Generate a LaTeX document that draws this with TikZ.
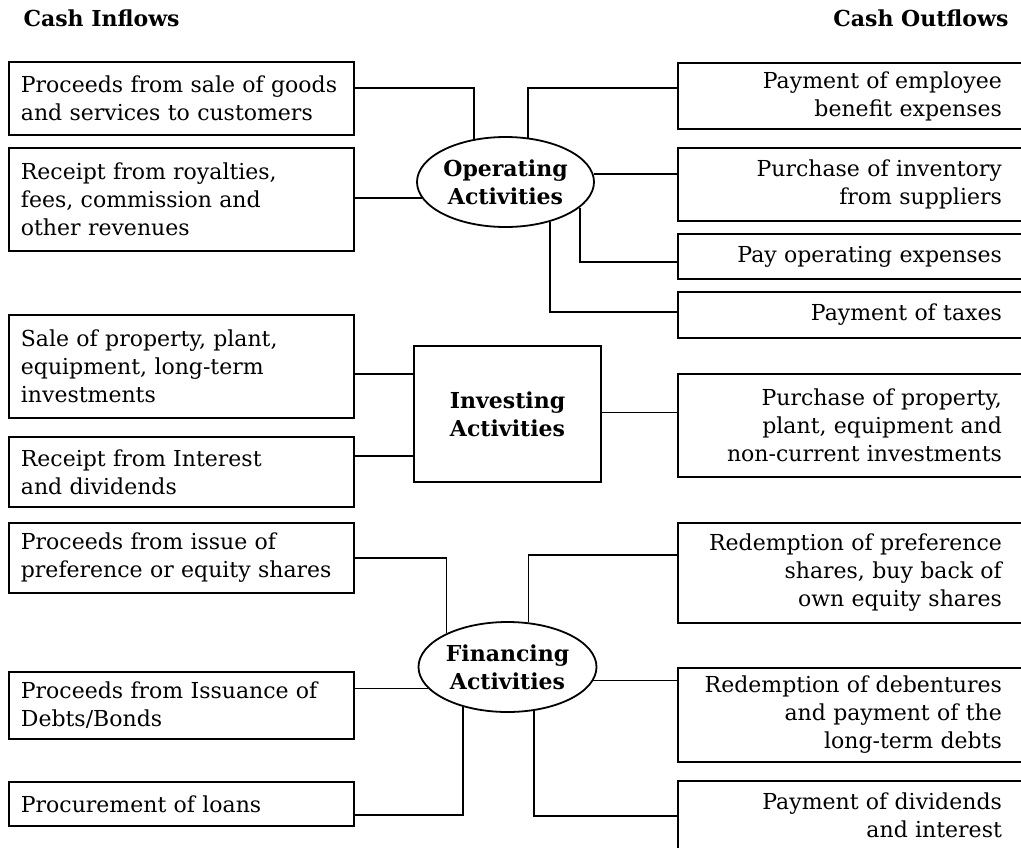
\documentclass[tikz,border=0pt]{standalone}
\usepackage{fontspec}
\setmainfont{DejaVu Serif}
\usepackage{tikz}
\usetikzlibrary{shapes.geometric}

\tikzset{
  inbox/.style={draw, line width=1.8pt, anchor=west, inner xsep=12pt, inner ysep=3pt, text width=321pt, align=left},
  outbox/.style={draw, line width=1.8pt, anchor=west, inner xsep=22pt, inner ysep=3pt, text width=302pt, align=right},
  activity/.style={draw, line width=1.8pt, ellipse, inner sep=0pt, minimum width=177pt, minimum height=90pt, align=center, font=\fontsize{22}{28}\selectfont\bfseries},
  heading/.style={font=\fontsize{22}{26}\selectfont\bfseries},
  link/.style={line width=1.6pt}
}

\begin{document}
\begin{tikzpicture}[x=1pt, y=-1pt, font=\fontsize{22}{28}\selectfont]
\clip (0, 0) rectangle (1021, 847);
\node [heading, anchor=base west] (inflows) at (20, 26) {Cash Inflows};
\node [heading, anchor=base east] (outflows) at (1012, 26) {Cash Outflows};

\node [inbox, minimum height=73pt] (sales) at (8, 98.5) {Proceeds from sale of goods\\and services to customers};
\node [inbox, minimum height=103pt] (royalty) at (8, 199.5) {Receipt from royalties,\\fees, commission and\\other revenues};
\node [inbox, minimum height=103pt] (assetsale) at (8, 366.5) {Sale of property, plant,\\equipment, long-term\\investments};
\node [inbox, minimum height=70pt] (interest) at (8, 472) {Receipt from Interest\\and dividends};
\node [inbox, minimum height=70pt] (issue) at (8, 558) {Proceeds from issue of\\preference or equity shares};
\node [inbox, minimum height=67pt] (debts) at (8, 705.5) {Proceeds from Issuance of\\Debts/Bonds};
\node [inbox, minimum height=44pt] (loans) at (8, 804) {Procurement of loans};

\node [outbox, minimum height=66pt] (employee) at (677, 96) {Payment of employee\\benefit expenses};
\node [outbox, minimum height=73pt] (inventory) at (677, 184.5) {Purchase of inventory\\from suppliers};
\node [outbox, minimum height=45pt] (opexp) at (677, 256.5) {Pay operating expenses};
\node [outbox, minimum height=46pt] (taxes) at (677, 315) {Payment of taxes};
\node [outbox, minimum height=103pt] (purchase) at (677, 425.5) {Purchase of property,\\plant, equipment and\\non-current investments};
\node [outbox, minimum height=100pt] (buyback) at (677, 573) {Redemption of preference\\shares, buy back of\\own equity shares};
\node [outbox, minimum height=94pt] (debentures) at (677, 715) {Redemption of debentures\\and payment of the\\long-term debts};
\node [outbox, minimum height=68pt] (dividends) at (677, 815) {Payment of dividends\\and interest};

\node [activity] (op) at (505.5, 182) {Operating\\Activities};
\node [activity, rectangle, minimum width=187pt, minimum height=136pt] (inv) at (507.5, 414) {Investing\\Activities};
\node [activity, minimum width=178pt] (fin) at (507.5, 667) {Financing\\Activities};

\draw [link] (op.126) |- ([yshift=10.5pt]sales.east);
\draw [link] (op.191) -- (op.191 -| royalty.east);
\draw [link] (op.63) |- ([yshift=8pt]employee.west);
\draw [link] (op.5) -- (op.5 -| inventory.west);
\draw [link] (op.-19) |- ([yshift=-5.5pt]opexp.west);
\draw [link] (op.-42) |- ([yshift=3pt]taxes.west);

\draw [link] (inv.157.9) -- (inv.157.9 -| assetsale.east);
\draw [link] (inv.204.7) -- (inv.204.7 -| interest.east);
\draw [link] (inv.1.2) -- (inv.1.2 -| purchase.west);

\draw [link] (fin.151) |- (issue.east);
\draw [link] (fin.195) -- (fin.195 -| debts.east);
\draw [link] (fin.222) |- ([yshift=-11pt]loans.east);
\draw [link] (fin.65) |- ([yshift=18pt]buyback.west);
\draw [link] (fin.-9) -- (fin.-9 -| debentures.west);
\draw [link] (fin.-59) |- ([yshift=-1pt]dividends.west);
\end{tikzpicture}
\end{document}
